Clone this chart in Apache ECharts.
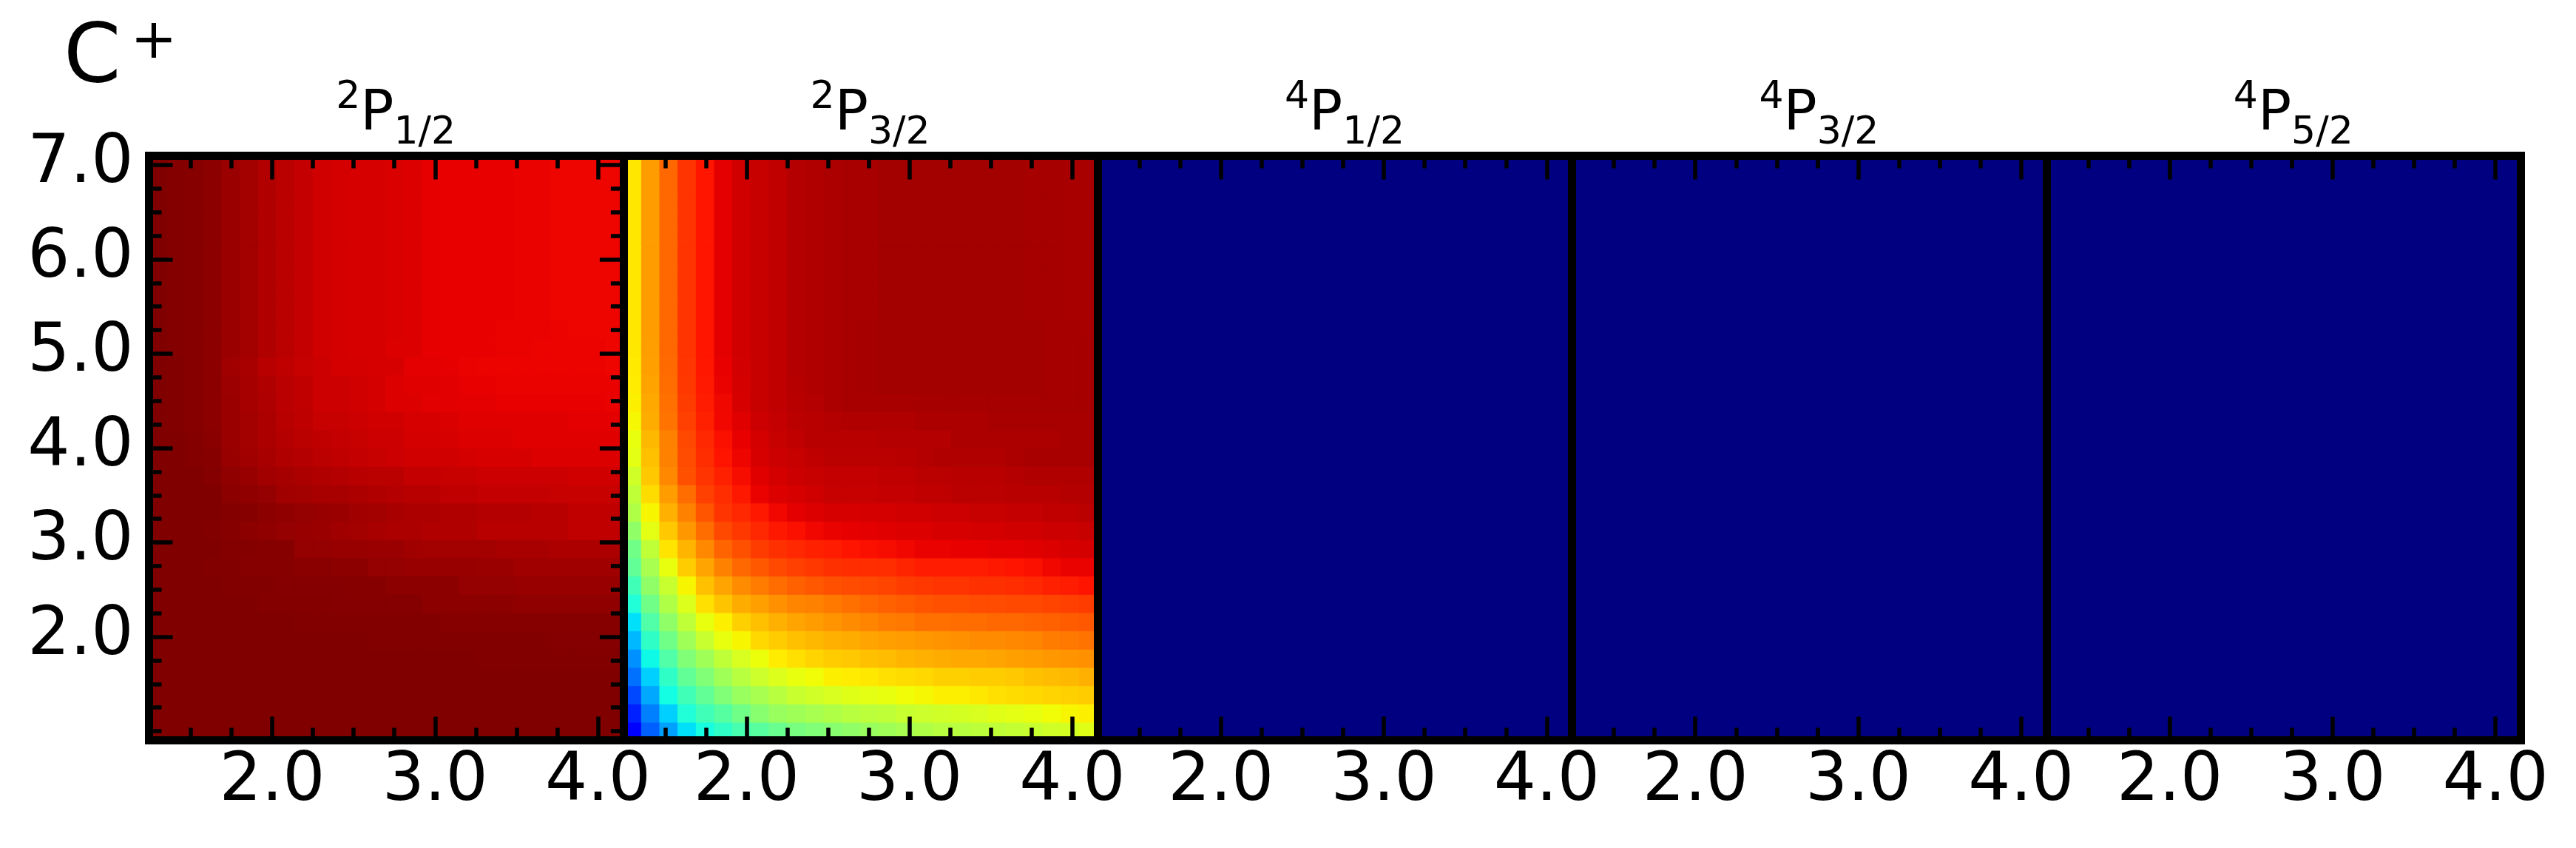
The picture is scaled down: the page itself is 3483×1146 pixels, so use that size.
<!DOCTYPE html>
<html>
<head>
<meta charset="utf-8">
<style>html,body{margin:0;padding:0;background:#fff}#c{width:3483px;height:1146px}</style>
<script src="https://cdn.jsdelivr.net/npm/echarts@6/dist/echarts.min.js"></script>
</head>
<body>
<div id="c"></div>
<script>
// Axis values
const xCenters = [1.3,1.412,1.524,1.636,1.748,1.86,1.972,2.084,2.196,2.308,2.42,2.532,2.644,2.756,2.868,2.98,3.092,3.204,3.316,3.428,3.54,3.652,3.764,3.876,3.988,4.1];
const yCenters = [1,1.194,1.387,1.581,1.774,1.968,2.161,2.355,2.548,2.742,2.935,3.129,3.323,3.516,3.71,3.903,4.097,4.29,4.484,4.677,4.871,5.065,5.258,5.452,5.645,5.839,6.032,6.226,6.419,6.613,6.806,7];
const xMajor = [2,3,4];
const xMinor = [1.5,1.75,2.25,2.5,2.75,3.25,3.5,3.75];
const yMajor = [2,3,4,5,6,7];
const yMinor = [1,1.25,1.5,1.75,2.25,2.5,2.75,3.25,3.5,3.75,4.25,4.5,4.75,5.25,5.5,5.75,6.25,6.5,6.75];
const xRange = [1.244,4.156];
const yRange = [0.903,7.097];
const panelNames = [['2','1/2'],['2','3/2'],['4','1/2'],['4','3/2'],['4','5/2']];

// Cell values (thousandths of the colour scale), bottom row first
const panel1 = [
[1000,1000,1000,1000,1000,1000,1000,1000,1000,1000,1000,1000,1000,1000,1000,1000,1000,1000,1000,1000,1000,1000,1000,1000,1000,1000],
[1000,1000,1000,1000,1000,1000,1000,1000,1000,1000,1000,1000,1000,1000,1000,1000,1000,1000,1000,1000,1000,1000,1000,1000,1000,1000],
[1000,1000,1000,1000,1000,1000,1000,1000,1000,1000,1000,1000,1000,1000,1000,1000,1000,1000,1000,1000,1000,1000,1000,1000,1000,1000],
[1000,1000,1000,1000,1000,1000,1000,1000,1000,1000,1000,1000,1000,1000,1000,1000,1000,1000,1000,1000,1000,1000,1000,1000,1000,1000],
[1000,1000,1000,1000,1000,1000,1000,1000,1000,1000,1000,1000,1000,1000,1000,1000,1000,1000,998,998,998,998,998,998,998,998],
[1000,1000,1000,1000,1000,1000,1000,1000,1000,1000,1000,1000,998,998,998,998,998,998,998,998,998,998,995,995,995,995],
[1000,1000,1000,1000,1000,1000,1000,1000,997,997,997,997,997,997,997,997,993,993,993,993,993,993,993,993,993,993],
[1000,1000,1000,1000,1000,1000,996,996,996,996,995,995,995,995,995,989,989,989,989,989,986,986,986,986,986,986],
[1000,1000,1000,1000,998,998,998,995,995,995,995,993,993,989,989,989,989,982,982,982,979,979,979,979,979,979],
[1000,1000,1000,998,998,993,993,993,991,991,989,989,982,982,979,979,979,979,976,976,972,972,972,972,972,972],
[1000,1000,1000,1000,996,996,993,993,982,982,979,979,976,976,972,969,969,969,969,965,965,965,962,962,962,962],
[1000,1000,1000,998,993,989,986,982,979,976,972,969,965,962,962,958,958,958,951,951,951,951,951,944,944,944],
[1000,1000,1000,1000,996,993,989,986,982,979,976,972,969,965,962,962,958,958,955,955,955,951,951,944,944,944],
[1000,1000,1000,1000,989,986,982,972,969,965,965,962,958,955,951,951,944,944,941,941,941,941,938,938,938,938],
[1000,1000,1000,995,986,979,970,967,962,958,955,951,948,948,941,941,938,938,934,934,934,934,934,931,931,931],
[1000,1000,996,993,979,972,965,958,955,948,944,941,938,934,931,931,931,927,924,924,924,920,920,920,920,920],
[1000,1000,996,991,977,969,962,955,948,944,941,938,934,934,927,927,924,920,920,920,917,917,917,917,917,917],
[1000,998,993,989,976,969,962,951,946,938,938,934,931,931,924,924,922,917,917,917,917,917,917,913,913,913],
[1000,998,993,989,976,967,960,949,944,934,934,931,927,920,920,915,915,913,913,910,910,910,910,910,910,908],
[1000,998,993,989,974,967,958,949,944,934,934,931,927,920,917,917,915,910,910,908,908,908,908,908,908,908],
[1000,998,993,989,972,965,951,944,938,934,927,927,924,924,913,913,912,908,907,907,907,907,907,907,907,905],
[1000,996,993,989,976,969,958,948,941,931,927,925,924,920,919,912,910,910,910,908,908,907,907,907,907,905],
[1000,996,993,989,976,969,958,948,941,931,927,925,924,921,919,912,910,910,910,908,908,908,907,905,905,905],
[1000,996,993,989,976,969,958,948,941,931,927,925,924,921,919,912,910,910,910,910,908,908,905,905,905,905],
[1000,996,993,989,976,969,958,948,941,931,927,925,924,921,919,912,910,910,910,910,908,908,905,905,905,905],
[1000,996,993,989,976,969,958,948,941,931,927,925,924,921,919,912,910,910,910,910,908,908,905,905,905,905],
[1000,996,993,989,976,969,958,948,941,931,927,925,924,921,919,912,910,910,910,910,908,908,905,905,905,905],
[1000,996,993,989,976,969,958,948,941,931,927,925,924,921,919,912,910,910,910,910,908,908,905,905,905,905],
[1000,996,993,989,976,969,958,948,941,931,927,925,924,921,919,912,910,910,910,910,908,908,905,905,905,905],
[1000,996,993,989,976,969,958,948,941,931,927,925,924,921,919,912,910,910,910,910,908,908,905,905,905,905],
[1000,996,993,989,976,969,958,948,941,931,927,925,924,921,919,912,910,910,910,910,908,908,905,905,905,905],
[1000,996,993,989,976,969,958,948,941,931,927,925,924,921,919,912,910,910,910,910,908,908,905,905,905,905]
];
const panel2 = [
[110,219,282,345,379,408,438,457,476,496,506,515,525,535,545,554,564,574,574,579,583,588,593,603,608,622],
[156,250,329,389,428,455,486,515,535,545,554,564,574,579,583,593,598,603,608,613,622,627,632,642,651,656],
[196,290,374,428,467,506,535,554,574,593,603,613,622,627,632,642,647,656,657,664,673,677,681,685,690,694],
[235,329,408,467,506,545,574,598,617,632,642,656,660,664,673,677,681,690,690,694,694,698,707,711,715,724],
[266,369,447,506,545,583,613,637,660,673,685,694,698,707,711,719,724,728,732,732,736,741,745,749,753,758],
[305,408,486,545,593,632,651,681,694,707,715,724,728,736,741,745,749,753,758,762,762,766,770,779,783,787],
[345,447,525,583,632,656,690,707,724,736,745,753,762,770,779,783,791,791,796,796,800,800,804,808,813,817],
[389,486,564,617,673,702,728,741,758,770,774,783,791,800,808,813,821,825,825,830,830,834,834,838,842,846],
[428,525,593,651,707,736,762,779,796,808,817,825,830,834,838,846,851,855,855,859,859,863,868,876,880,889],
[467,554,632,694,736,774,800,817,834,842,851,859,863,863,863,872,880,880,880,880,885,889,893,902,908,908],
[486,583,669,719,766,804,825,846,859,868,876,880,889,893,897,902,908,908,910,910,913,913,917,920,924,927],
[525,627,698,749,796,834,851,868,885,893,902,908,912,913,917,920,920,924,924,927,927,931,931,934,934,938],
[564,650,724,774,821,855,868,885,902,913,920,924,924,927,927,931,931,934,934,938,938,941,941,944,944,948],
[583,677,745,796,842,863,885,908,920,924,931,938,938,938,941,941,944,944,948,948,948,951,951,951,955,955],
[603,698,766,825,855,876,897,917,927,934,938,941,941,941,944,944,948,948,951,951,951,955,958,958,958,958],
[627,707,774,830,863,889,905,924,934,938,944,948,948,948,948,951,955,958,958,958,958,962,965,965,965,965],
[632,715,774,834,868,893,910,927,938,944,951,951,951,951,955,955,955,955,962,962,962,962,962,962,965,965],
[647,728,787,842,876,902,917,934,941,948,951,955,958,958,958,958,962,962,962,962,965,965,965,965,965,965],
[656,732,791,846,880,903,924,938,944,951,955,962,965,965,965,965,967,967,967,967,967,967,967,967,967,967],
[660,737,796,851,884,908,927,938,944,953,958,962,965,967,969,969,969,969,969,969,969,969,969,967,967,967],
[662,741,798,853,886,910,929,938,944,955,958,962,965,967,969,969,969,969,969,969,969,969,969,967,967,967],
[664,743,800,855,888,913,931,938,944,955,958,962,965,967,969,969,969,969,969,969,969,969,969,967,967,967],
[665,745,800,855,888,913,931,938,944,955,958,962,965,967,969,969,969,969,969,969,969,969,969,967,967,965],
[665,745,800,855,888,913,931,938,944,955,958,962,965,965,969,969,969,969,969,969,969,969,967,967,965,965],
[665,745,800,855,888,913,931,938,944,955,958,962,965,965,969,969,969,969,969,969,969,969,967,967,965,965],
[665,745,800,855,888,913,931,938,944,955,958,962,965,965,969,969,969,969,969,969,969,969,967,967,965,965],
[665,745,800,855,888,913,931,938,944,955,958,962,965,965,969,969,969,969,969,969,969,969,967,967,965,965],
[665,745,800,855,888,913,931,938,944,955,958,962,965,965,969,969,969,969,969,969,969,969,967,967,965,965],
[665,745,800,855,888,913,931,938,944,955,958,962,965,965,969,969,969,969,969,969,969,969,967,967,965,965],
[665,745,800,855,888,913,931,938,944,955,958,962,965,965,969,969,969,969,969,969,969,969,967,967,965,965],
[665,745,800,855,888,913,931,938,944,955,958,962,965,965,969,969,969,969,969,969,969,969,967,967,965,965],
[665,745,800,855,888,913,931,938,944,955,958,962,965,965,969,969,969,969,969,969,969,969,967,967,965,965]
];
const zeroRow = [0,0,0,0,0,0,0,0,0,0,0,0,0,0,0,0,0,0,0,0,0,0,0,0,0,0];
const panel3 = [zeroRow,zeroRow,zeroRow,zeroRow,zeroRow,zeroRow,zeroRow,zeroRow,zeroRow,zeroRow,zeroRow,zeroRow,zeroRow,zeroRow,zeroRow,zeroRow,zeroRow,zeroRow,zeroRow,zeroRow,zeroRow,zeroRow,zeroRow,zeroRow,zeroRow,zeroRow,zeroRow,zeroRow,zeroRow,zeroRow,zeroRow,zeroRow];
const panel4 = panel3.slice();
const panel5 = panel3.slice();
const panels = [panel1,panel2,panel3,panel4,panel5];

// Colour scale: the jet ramp, sampled
function ramp(v, pts){
  for(let i=1;i<pts.length;i++){
    if(v<=pts[i][0]){const a=pts[i-1],b=pts[i];return a[1]+(b[1]-a[1])*(v-a[0])/(b[0]-a[0]);}
  }
  return pts[pts.length-1][1];
}
function jet(v){
  const r=ramp(v,[[0,0],[0.35,0],[0.66,1],[0.89,1],[1,0.5]]);
  const g=ramp(v,[[0,0],[0.125,0],[0.375,1],[0.64,1],[0.91,0],[1,0]]);
  const b=ramp(v,[[0,0.5],[0.11,1],[0.34,1],[0.65,0],[1,0]]);
  return 'rgb('+Math.round(r*255)+','+Math.round(g*255)+','+Math.round(b*255)+')';
}
const jetStops = [];
for(let i=0;i<=400;i++) jetStops.push(jet(i/400));

const FONT = 'DejaVu Sans';
const L0 = 201.5, PITCH = 641.4, TOP = 210.5, W = 641.4, H = 790;
const grid=[], xAxis=[], yAxis=[], series=[], title=[];

panels.forEach((rows,p)=>{
  const left = L0 + p*PITCH;
  const rect = {left:left, top:TOP, width:W, height:H, containLabel:false};
  // heat cells on band axes; a hairline border in the cell's own colour closes the seams between cells
  const gHeat = grid.length; grid.push(rect);
  xAxis.push({type:'category',gridIndex:gHeat,data:xCenters.map(String),show:false});
  yAxis.push({type:'category',gridIndex:gHeat,data:yCenters.map(String),show:false});
  const xh = xAxis.length-1, yh = yAxis.length-1;
  const data=[];
  rows.forEach((row,j)=>row.forEach((v,i)=>data.push({value:[i,j,v],itemStyle:{borderColor:jet(v/1000),borderWidth:1}})));
  series.push({type:'heatmap',xAxisIndex:xh,yAxisIndex:yh,data:data,progressive:0,silent:true,z:2});
  // real-unit axes: frame, major ticks, labels
  const gMaj = grid.length; grid.push(rect);
  const line = {show:true,onZero:false,lineStyle:{color:'#000',width:11,cap:'square'}};
  const majTick = (vals,on)=>({show:on,inside:true,length:32,customValues:vals,lineStyle:{color:'#000',width:5.5}});
  const hidden = {show:false};
  xAxis.push({type:'value',gridIndex:gMaj,position:'bottom',min:xRange[0],max:xRange[1],z:10,axisLine:line,splitLine:hidden,
    axisTick:majTick(xMajor,true),
    axisLabel:{show:true,customValues:xMajor,formatter:v=>v.toFixed(1),fontFamily:FONT,fontSize:90,color:'#000',margin:12,hideOverlap:false}});
  xAxis.push({type:'value',gridIndex:gMaj,position:'top',min:xRange[0],max:xRange[1],z:10,axisLine:line,splitLine:hidden,
    axisTick:majTick(xMajor,true),axisLabel:hidden});
  yAxis.push({type:'value',gridIndex:gMaj,position:'left',min:yRange[0],max:yRange[1],z:10,axisLine:line,splitLine:hidden,
    axisTick:majTick(yMajor,p===0),
    axisLabel:p===0?{show:true,customValues:yMajor,formatter:v=>v.toFixed(1),fontFamily:FONT,fontSize:90,color:'#000',margin:21,hideOverlap:false}:hidden});
  yAxis.push({type:'value',gridIndex:gMaj,position:'right',min:yRange[0],max:yRange[1],z:10,axisLine:line,splitLine:hidden,
    axisTick:majTick(yMajor,p===0),axisLabel:hidden});
  // real-unit axes: minor ticks
  const gMin = grid.length; grid.push(rect);
  const noLine = {show:false,onZero:false};
  const minTick = (vals,on)=>({show:on,inside:true,length:17,customValues:vals,lineStyle:{color:'#000',width:5.5}});
  ['bottom','top'].forEach(pos=>xAxis.push({type:'value',gridIndex:gMin,position:pos,min:xRange[0],max:xRange[1],z:9,axisLine:noLine,splitLine:hidden,axisTick:minTick(xMinor,true),axisLabel:hidden}));
  ['left','right'].forEach(pos=>yAxis.push({type:'value',gridIndex:gMin,position:pos,min:yRange[0],max:yRange[1],z:9,axisLine:noLine,splitLine:hidden,axisTick:minTick(yMinor,p===0),axisLabel:hidden}));
  // panel title
  title.push({text:'{s|'+panelNames[p][0]+'}{b|P}{u|'+panelNames[p][1]+'}',left:left+W/2+13,top:106,textAlign:'center',padding:0,
    textStyle:{fontFamily:FONT,fontWeight:'normal',rich:{
      s:{fontFamily:FONT,fontWeight:'normal',fontSize:52,color:'#000',lineHeight:61,verticalAlign:'top'},
      b:{fontFamily:FONT,fontWeight:'normal',fontSize:75,color:'#000',lineHeight:100,verticalAlign:'middle'},
      u:{fontFamily:FONT,fontWeight:'normal',fontSize:52,color:'#000',lineHeight:59,verticalAlign:'bottom'}}}});
});
title.push({text:'{b|C}{s|+}',left:86,top:21,padding:0,textStyle:{fontFamily:FONT,fontWeight:'normal',rich:{
  b:{fontFamily:FONT,fontWeight:'normal',fontSize:111,color:'#000',lineHeight:120,verticalAlign:'middle'},
  s:{fontFamily:FONT,fontWeight:'normal',fontSize:75,color:'#000',lineHeight:68,verticalAlign:'top',padding:[0,0,0,13]}}}});

const chart = echarts.init(document.getElementById('c'),null,{renderer:'canvas',width:3483,height:1146});
chart.setOption({
  animation:false,backgroundColor:'#fff',title,grid,xAxis,yAxis,series,
  visualMap:{type:'continuous',show:false,min:0,max:1000,dimension:2,seriesIndex:series.map((s,i)=>i),inRange:{color:jetStops}}
});
</script>
</body>
</html>
